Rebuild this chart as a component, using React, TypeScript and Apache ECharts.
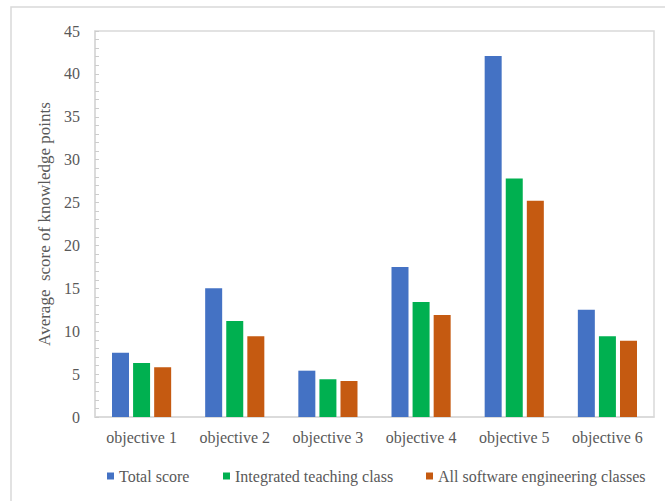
import React, { useEffect, useRef } from "react";
import * as echarts from "echarts";

const categories = ["objective 1", "objective 2", "objective 3", "objective 4", "objective 5", "objective 6"];
const seriesNames = ["Total score", "Integrated teaching class", "All software engineering classes"];
const totalScore = [7.5, 15.0, 5.4, 17.5, 42.1, 12.5];
const integratedClass = [6.3, 11.2, 4.4, 13.4, 27.8, 9.4];
const allSoftwareClasses = [5.8, 9.4, 4.2, 11.9, 25.2, 8.9];
const colors = ["#4472C4", "#00B050", "#C55A11"];
const yAxisName = "Average  score of knowledge points";

const FONT = "Liberation Serif";
const TEXT = "#595959";
const LINE = "#D9D9D9";

export default function App() {
  const ref = useRef<HTMLDivElement>(null);
  useEffect(() => {
    if (!ref.current) return;
    const chart = echarts.init(ref.current, undefined, { renderer: "svg" });
    const data = [totalScore, integratedClass, allSoftwareClasses];
    const legendLefts = [102, 218, 421];
    chart.setOption({
      animation: false,
      backgroundColor: "#ffffff",
      textStyle: { fontFamily: FONT, color: TEXT },
      graphic: [
        {
          type: "rect",
          shape: { x: 11, y: 7, width: 700, height: 520 },
          style: { fill: "none", stroke: LINE, lineWidth: 1.5 },
          silent: true,
          z: -1,
        },
      ],
      grid: {
        left: 95,
        right: 11,
        top: 31,
        bottom: 84,
        show: true,
        borderColor: LINE,
        borderWidth: 1.5,
        containLabel: false,
      },
      legend: seriesNames.map((n, i) => ({
        data: [n],
        left: legendLefts[i],
        top: 463,
        icon: "rect",
        itemWidth: 7,
        itemHeight: 7,
        itemGap: 5,
        textStyle: { fontFamily: FONT, fontSize: 16, color: TEXT },
      })),
      xAxis: {
        type: "category",
        data: categories,
        axisLine: { show: true, lineStyle: { color: LINE, width: 1.5 } },
        axisTick: { show: false },
        axisLabel: { fontFamily: FONT, fontSize: 16, color: TEXT, margin: 12 },
        splitLine: { show: false },
      },
      yAxis: {
        type: "value",
        min: 0,
        max: 45,
        interval: 5,
        name: yAxisName,
        nameLocation: "middle",
        nameGap: 40,
        nameTextStyle: { fontFamily: FONT, fontSize: 17, color: TEXT },
        axisLine: { show: true, lineStyle: { color: LINE, width: 1.5 } },
        axisTick: { show: true, inside: true, length: 4, lineStyle: { color: "#CCCCCC" } },
        minorTick: { show: true, splitNumber: 5, length: 4, lineStyle: { color: "#CCCCCC" } },
        axisLabel: { fontFamily: FONT, fontSize: 16, color: TEXT, margin: 15 },
        splitLine: { show: false },
      },
      series: seriesNames.map((n, i) => ({
        name: n,
        type: "bar",
        data: data[i],
        barWidth: 17,
        barGap: "24%",
        itemStyle: { color: colors[i] },
      })),
    });
    return () => chart.dispose();
  }, []);
  return (
    <div
      ref={ref}
      style={{ position: "fixed", left: 0, top: 0, width: 665, height: 501, background: "#fff" }}
    />
  );
}
